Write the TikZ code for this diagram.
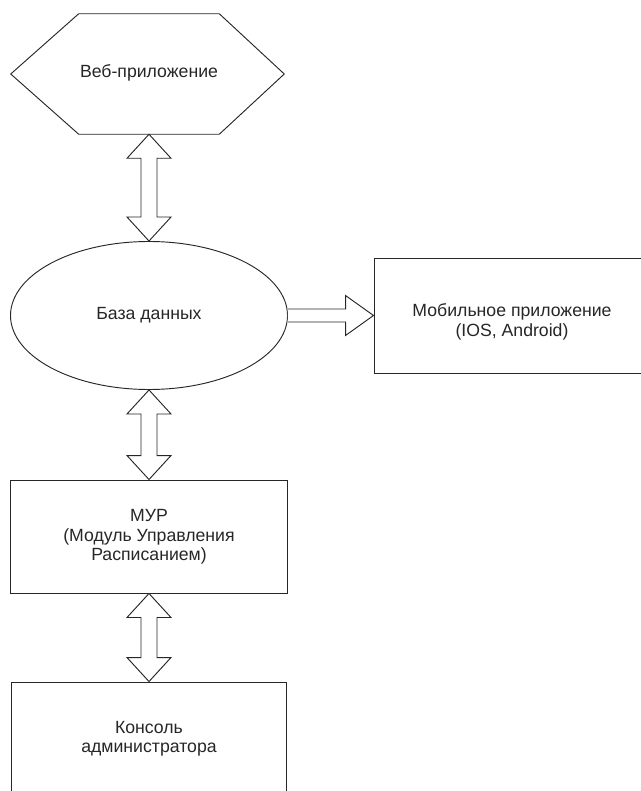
\documentclass[tikz,border=0pt]{standalone}
\usepackage{fontspec}
\setmainfont{Liberation Sans}
\usetikzlibrary{shapes.geometric,calc}
\tikzset{
  box/.style={draw=black!85, line width=0.7pt, rectangle, inner sep=0pt},
  ghost/.style={rectangle, inner sep=0pt},
  lbl/.style={align=center, font=\fontsize{13.25pt}{14.5pt}\selectfont, text=black!85, inner sep=0pt},
  conn/.style={draw=black!85, line width=0.7pt, fill=white, line join=miter},
}
\newcommand{\vdarrow}[2]{%
  \draw[conn] (#1) -- ++(22,24) -- ++(-14,0) -- ($(#2)+(8,-24)$) -- ++(14,0) -- (#2)
    -- ++(-22,-24) -- ++(14,0) -- ($(#1)+(-8,24)$) -- ++(-14,0) -- cycle;}
\begin{document}
\begin{tikzpicture}[x=0.75pt,y=-0.75pt]
\useasboundingbox (0,0) rectangle (640,791);
% Web application (hexagon)
\node[ghost, minimum width=105pt, minimum height=90pt] (web) at (149,74) {};
\draw[box] (web.north west) -- (web.north east) -- ($(web.east)+(65,0)$) -- (web.south east)
  -- (web.south west) -- ($(web.west)+(-68,0)$) -- cycle;
\node[lbl] (webt) at (149,73) {Веб-приложение};
% Database
\node[box, ellipse, minimum width=207.75pt, minimum height=111pt] (db) at (149,315.5) {};
\node[lbl] (dbt) at (149,315) {База данных};
% Mobile app
\node[box, minimum width=214.5pt, minimum height=86.25pt] (mob) at (517,315.5) {};
\node[lbl] (mobt) at (512,322) {Мобильное приложение\\(IOS, Android)};
% MUR
\node[box, minimum width=207.75pt, minimum height=84.75pt] (mur) at (149,536.5) {};
\node[lbl] (murt) at (149,537) {МУР\\(Модуль Управления\\Расписанием)};
% Console
\node[box, minimum width=206.25pt, minimum height=88.5pt] (con) at (149,741) {};
\node[lbl] (cont) at (149,739) {Консоль\\администратора};
% Connectors
\vdarrow{web.south}{db.north}
\vdarrow{db.south}{mur.north}
\vdarrow{mur.south}{con.north}
\draw[conn] ($(db.east)+(0,-6.5)$) -- ($(mob.west)+(-28,-6.5)$) -- ($(mob.west)+(-28,-20)$)
  -- (mob.west) -- ($(mob.west)+(-28,20)$) -- ($(mob.west)+(-28,6.5)$) -- ($(db.east)+(0,6.5)$);
\end{tikzpicture}
\end{document}
